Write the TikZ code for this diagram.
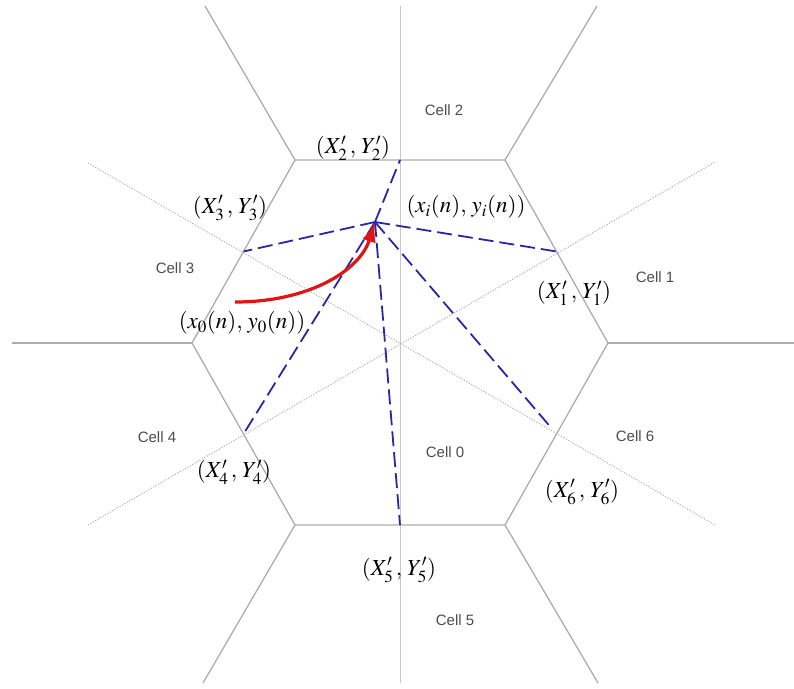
\documentclass[tikz,border=0pt]{standalone}
\usepackage{mathptmx}
\usepackage{fontspec}
\setsansfont{Liberation Sans}
\usetikzlibrary{arrows.meta}

\definecolor{distblue}{RGB}{40,40,165}
\definecolor{moved}{RGB}{225,20,20}

\begin{document}
\begin{tikzpicture}[x=1pt, y=-1pt,
		cellline/.style={draw=black!32, line width=1.3pt},
		axisline/.style={draw=black!22, line width=0.8pt},
		linkline/.style={draw=black!30, line width=1pt, dash pattern={on 1.2pt off 1.6pt}},
		distline/.style={draw=distblue, line width=1.8pt, dash pattern={on 15pt off 6pt}},
		moveline/.style={draw=moved, line width=3.2pt, -{Latex[length=20pt, width=14pt]}},
		celllabel/.style={text=black!70, font=\sffamily\fontsize{15}{17}\selectfont},
		ptlabel/.style={font=\fontsize{23}{27}\selectfont, inner sep=0pt}]
			\useasboundingbox (0, 0) rectangle (794, 688);
			% hexagon of cell 0
			\coordinate (h0) at (608, 343);
			\coordinate (h1) at (505, 160);
			\coordinate (h2) at (295, 160);
			\coordinate (h3) at (192, 343);
			\coordinate (h4) at (295, 525);
			\coordinate (h5) at (505, 525);
			\coordinate (o0) at (794, 343);
			\coordinate (o1) at (597, 6);
			\coordinate (o2) at (205, 6);
			\coordinate (o3) at (12, 343);
			\coordinate (o4) at (203, 683);
			\coordinate (o5) at (598, 683);
			\coordinate (top) at (400, 6);
			\coordinate (bottom) at (400, 683);
			\coordinate (c36a) at (88, 163);
			\coordinate (c36b) at (715, 525);
			\coordinate (c41a) at (88, 525);
			\coordinate (c41b) at (715, 162);
			% edge midpoints
			\coordinate (m1) at (556.5, 251.5);
			\coordinate (m2) at (400, 160);
			\coordinate (m3) at (243.5, 251.5);
			\coordinate (m4) at (243.5, 434);
			\coordinate (m5) at (400, 525);
			\coordinate (m6) at (556.5, 434);
			\coordinate (xi) at (375, 222);
			\coordinate (x0) at (235, 302);
			\draw[axisline] (top) -- (bottom);
			\draw[linkline] (c36a) -- (c36b);
			\draw[linkline] (c41a) -- (c41b);
			\draw[cellline] (h0) -- (h1) -- (h2) -- (h3) -- (h4) -- (h5) -- cycle;
			\draw[cellline] (h0) -- (o0);
			\draw[cellline] (h1) -- (o1);
			\draw[cellline] (h2) -- (o2);
			\draw[cellline] (h3) -- (o3);
			\draw[cellline] (h4) -- (o4);
			\draw[cellline] (h5) -- (o5);
			\draw[distline] (xi) -- (m1);
			\draw[distline] (xi) -- (m2);
			\draw[distline] (xi) -- (m3);
			\draw[distline] (xi) -- (m4);
			\draw[distline] (xi) -- (m5);
			\draw[distline, shorten >=12pt] (xi) -- (m6);
			\draw[moveline] (x0) .. controls (310, 302) and (360, 270) .. (xi);
			% cell names
			\node[celllabel] (cell0) at (445, 452) {Cell 0};
			\node[celllabel] (cell1) at (655, 277) {Cell 1};
			\node[celllabel] (cell2) at (444, 110) {Cell 2};
			\node[celllabel] (cell3) at (175, 268) {Cell 3};
			\node[celllabel] (cell4) at (157, 437) {Cell 4};
			\node[celllabel] (cell5) at (455, 620) {Cell 5};
			\node[celllabel] (cell6) at (635, 436) {Cell 6};
			% point labels
			\node[ptlabel] (lbl1) at (574, 293) {$(X_1'\,,\,Y_1')$};
			\node[ptlabel] (lbl2) at (353, 148) {$(X_2'\,,\,Y_2')$};
			\node[ptlabel] (lbl3) at (230, 208) {$(X_3'\,,\,Y_3')$};
			\node[ptlabel] (lbl4) at (234, 472) {$(X_4'\,,\,Y_4')$};
			\node[ptlabel] (lbl5) at (399, 570) {$(X_5'\,,\,Y_5')$};
			\node[ptlabel] (lbl6) at (582, 492) {$(X_6'\,,\,Y_6')$};
			\node[ptlabel] (lbli) at (466, 207) {$(x_i(n),\,y_i(n))$};
			\node[ptlabel] (lbl0) at (242, 323) {$(x_0(n),\,y_0(n))$};
		\end{tikzpicture}
\end{document}
